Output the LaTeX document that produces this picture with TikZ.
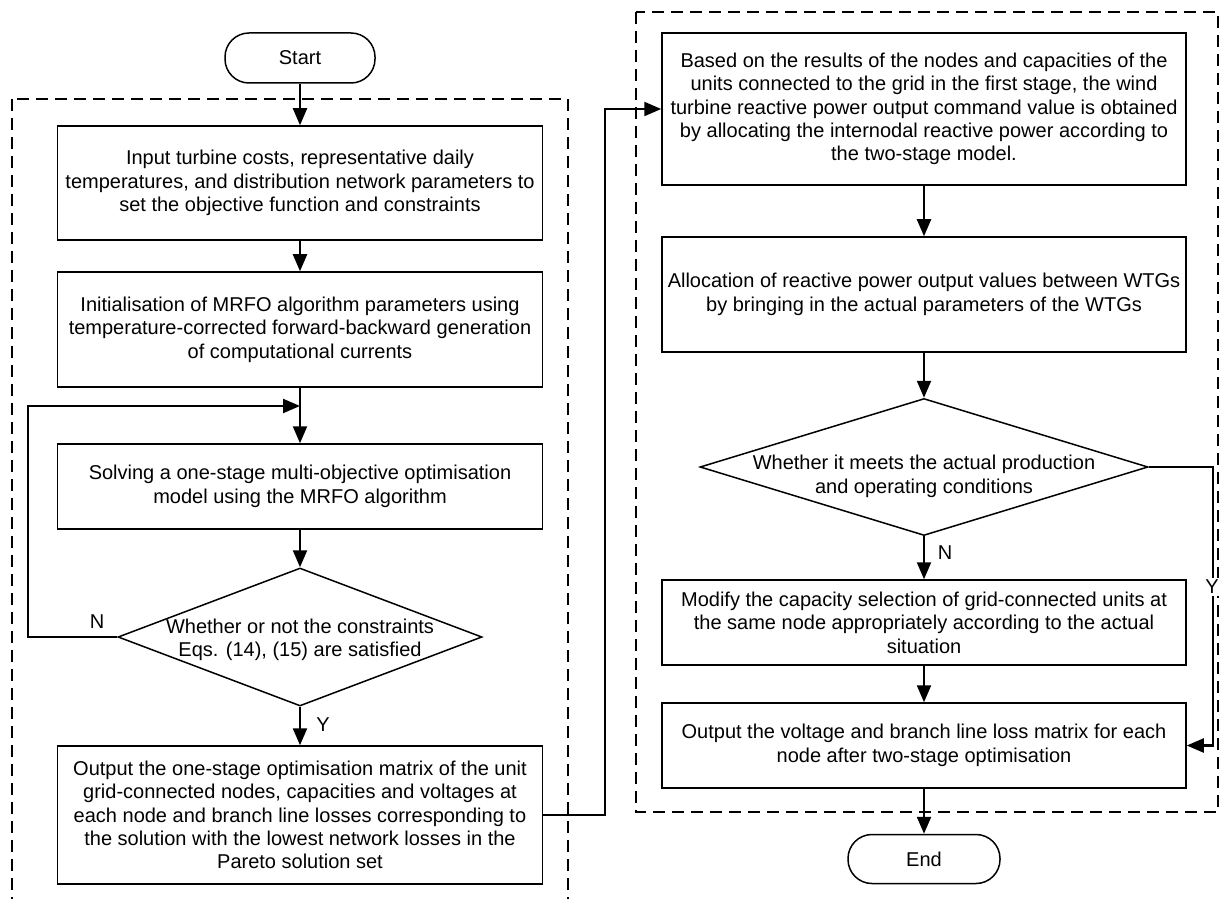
\documentclass[tikz,border=0pt]{standalone}
\usepackage{fontspec}
\setmainfont{Liberation Sans}
\usetikzlibrary{arrows.meta,shapes.geometric}
\tikzset{
  box/.style={draw,line width=0.75pt,align=center,inner sep=2pt},
  lbox/.style={box,minimum width=242.5pt},
  rbox/.style={box,minimum width=262pt},
  term/.style={draw,line width=0.75pt,rounded corners=12pt,inner sep=0pt},
  dec/.style={draw,line width=0.75pt,diamond,inner sep=0pt},
  arr/.style={line width=1.1pt,-{Triangle[length=8.5pt,width=7pt]}},
  zone/.style={dashed,dash pattern=on 6pt off 3.5pt,line width=0.6pt},
  yn/.style={font=\fontsize{10}{12}\selectfont,inner sep=1pt}
}
\newcommand{\dtext}[1]{\smash{\makebox[0pt]{\begin{tabular}{@{}c@{}}#1\end{tabular}}}}
\begin{document}
\begin{tikzpicture}[x=0.5pt,y=-0.5pt,font=\fontsize{10}{11.7}\selectfont]
  \useasboundingbox (0,0) rectangle (1224,898);
  \draw[zone] (12,99) rectangle (568,910);
  \draw[zone] (636,12) rectangle (1218,812);

  \node[term,minimum width=75pt,minimum height=25pt] (start) at (300,58) {Start};
  \node[lbox,minimum height=57pt] (in) at (300,183)
    {Input turbine costs, representative daily\\temperatures, and distribution network parameters to\\set the objective function and constraints};
  \node[lbox,minimum height=57.5pt] (init) at (300,329.5)
    {Initialisation of MRFO algorithm parameters using\\temperature-corrected forward-backward generation\\of computational currents};
  \coordinate (loop) at (300,406);
  \node[lbox,minimum height=42.5pt] (solve) at (300,486.5)
    {Solving a one-stage multi-objective optimisation\\model using the MRFO algorithm};
  \node[dec,minimum width=182pt,minimum height=69pt] (chk) at (300,637)
    {\raisebox{-8.5pt}{\dtext{Whether or not the constraints\\Eqs. (14), (15) are satisfied}}};
  \node[lbox,minimum height=69pt] (out1) at (300,815)
    {Output the one-stage optimisation matrix of the unit\\grid-connected nodes, capacities and voltages at\\each node and branch line losses corresponding to\\the solution with the lowest network losses in the\\Pareto solution set};

  \node[rbox,minimum height=76pt] (alloc) at (924,109)
    {Based on the results of the nodes and capacities of the\\units connected to the grid in the first stage, the wind\\turbine reactive power output command value is obtained\\by allocating the internodal reactive power according to\\the two-stage model.};
  \node[rbox,minimum height=57.5pt] (wtg) at (924,294.5)
    {Allocation of reactive power output values between WTGs\\by bringing in the actual parameters of the WTGs};
  \node[dec,minimum width=224pt,minimum height=68.5pt] (meet) at (924,467)
    {\raisebox{-15pt}{\dtext{Whether it meets the actual production\\and operating conditions}}};
  \node[rbox,minimum height=42.5pt] (mod) at (924,622.5)
    {Modify the capacity selection of grid-connected units at\\the same node appropriately according to the actual\\situation};
  \node[rbox,minimum height=42.5pt] (out2) at (924,745.5)
    {Output the voltage and branch line loss matrix for each\\node after two-stage optimisation};
  \node[term,minimum width=76pt,minimum height=24.5pt] (end) at (924,859) {End};

  \draw[arr] (start) -- (in);
  \draw[arr] (in) -- (init);
  \draw[arr] (init) -- (solve);
  \draw[arr] (chk.west) -- ++(-89,0) |- (loop);
  \draw[arr] (solve) -- (chk);
  \draw[arr] (chk) -- (out1);
  \draw[arr] (out1.east) -- ++(62,0) |- (alloc.west);
  \draw[arr] (alloc) -- (wtg);
  \draw[arr] (wtg) -- (meet);
  \draw[arr] (meet) -- (mod);
  \draw[arr] (mod) -- (out2);
  \draw[arr] (out2) -- (end);
  \draw[arr] (meet.east) -- ++(64,0) |- (out2.east);

  \node[yn] (n1) at (97,622) {N};
  \node[yn] (y1) at (323,725) {Y};
  \node[yn] (n2) at (945,553) {N};
  \node[yn,fill=white] (y2) at (1212,587) {Y};
\end{tikzpicture}
\end{document}
